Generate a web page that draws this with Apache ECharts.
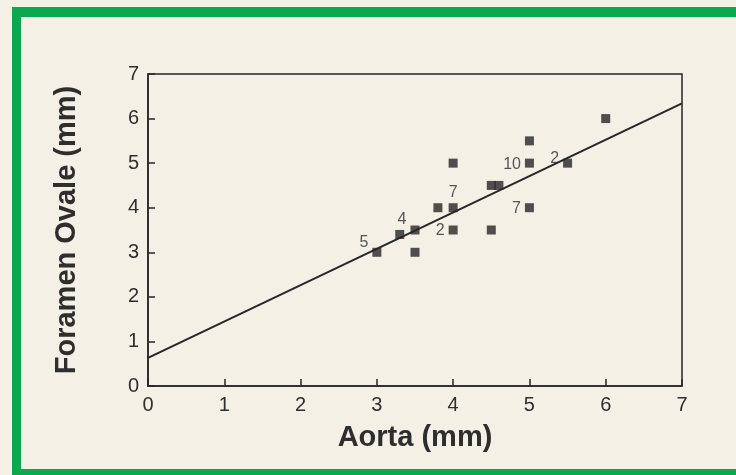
<!DOCTYPE html>
<html>
<head>
<meta charset="utf-8">
<script src="https://cdn.jsdelivr.net/npm/echarts@6/dist/echarts.min.js"></script>
<style>
  html, body { margin: 0; padding: 0; background: #f4f0e6; }
  #chart { width: 736px; height: 475px; }
</style>
</head>
<body>
<div id="chart"></div>
<script>
// measurements (mm)
const aorta = [3, 3.3, 3.5, 3.5, 3.8, 4, 4, 4, 4.5, 4.5, 4.6, 5, 5, 5, 5.5, 6];
const foramen = [3, 3.4, 3.5, 3, 4, 4, 3.5, 5, 3.5, 4.5, 4.5, 5.5, 5, 4, 5, 6];
// number of patients sharing a point ('' = single)
const counts = ['5', '', '4', '', '', '7', '2', '', '', '', '', '', '10', '7', '2', ''];
const tickLabels = ['0', '1', '2', '3', '4', '5', '6', '7'];

// regression line
const fitIntercept = 0.63;
const fitSlope = 0.816;

const ink = '#262626';
const font = "'Liberation Sans', Arial, sans-serif";

// place each count label beside its marker
function labelFor(i) {
    const c = counts[i];
    if (!c) return { show: false };
    const base = { show: true, formatter: c, color: '#2e2e2e', fontSize: 16, fontFamily: font, position: 'left' };
    if (c === '5' || c === '4') return Object.assign(base, { offset: [1, -10] });
    if (c === '7' && aorta[i] === 4) return Object.assign(base, { position: 'top', distance: 3 });
    if (c === '2' && aorta[i] > 5) return Object.assign(base, { distance: 4, offset: [0, -5] });
    return Object.assign(base, { distance: 4, offset: [0, 1] });
}

const points = aorta.map((x, i) => ({ value: [x, foramen[i]], label: labelFor(i) }));

const axisCommon = {
    type: 'value', min: 0, max: 7, interval: 1,
    nameLocation: 'middle',
    nameTextStyle: { fontSize: 29, fontWeight: 'bold', color: '#2e2e2e', fontFamily: font },
    axisLine: { lineStyle: { color: ink, width: 1.5 } },
    axisTick: { inside: true, length: 7, lineStyle: { color: ink, width: 1.5 } },
    axisLabel: { fontSize: 20, color: '#2e2e2e', margin: 9, fontFamily: font, formatter: v => tickLabels[v] },
    splitLine: { show: false }
};

const chart = echarts.init(document.getElementById('chart'));
chart.setOption({
    backgroundColor: '#f4f0e6',
    animation: false,
    graphic: [
        { type: 'rect', shape: { x: 12, y: 7, width: 724, height: 10 }, style: { fill: '#0aa84f' } },
        { type: 'rect', shape: { x: 12, y: 7, width: 9, height: 468 }, style: { fill: '#0aa84f' } },
        { type: 'rect', shape: { x: 12, y: 469, width: 724, height: 6 }, style: { fill: '#0aa84f' } }
    ],
    grid: {
        left: 148, right: 54, top: 74, bottom: 89,
        show: true, borderColor: ink, borderWidth: 1.5, backgroundColor: 'transparent'
    },
    xAxis: Object.assign({}, axisCommon, { name: 'Aorta (mm)', nameGap: 37 }),
    yAxis: Object.assign({}, axisCommon, { name: 'Foramen Ovale (mm)', nameGap: 67, nameRotate: 90 }),
    series: [
        {
            type: 'line',
            data: [[0, fitIntercept], [7, fitIntercept + fitSlope * 7]],
            symbol: 'none',
            lineStyle: { color: ink, width: 2 },
            z: 1
        },
        {
            type: 'scatter',
            data: points,
            symbol: 'rect',
            symbolSize: 9,
            itemStyle: { color: '#262626' },
            z: 2
        }
    ]
});
</script>
</body>
</html>
